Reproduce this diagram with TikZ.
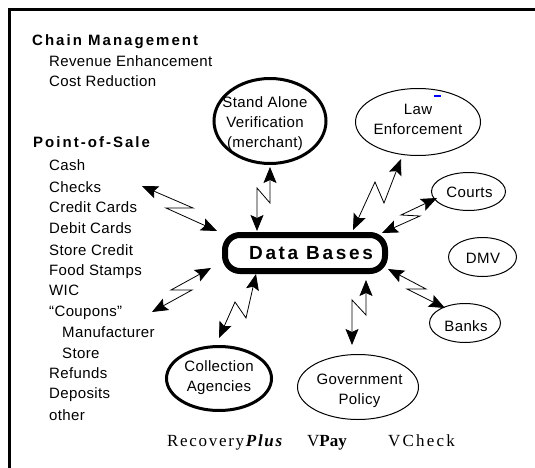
\documentclass[tikz,border=0pt]{standalone}
\usepackage{fontspec}
\setmainfont{Liberation Sans}
\newfontfamily\txtfont[LetterSpace=2.5]{Liberation Sans}
\newfontfamily\headfont[LetterSpace=13.5]{Liberation Sans}
\newfontfamily\dbfont[LetterSpace=14]{Liberation Sans}
\newfontfamily\prodfont[LetterSpace=10]{Liberation Serif}
\newfontfamily\prodplain{Liberation Serif}
\newfontfamily\prodwide[LetterSpace=13]{Liberation Serif}
\usetikzlibrary{shapes.geometric,arrows.meta}

\tikzset{
  lbl/.style={anchor=base west, inner sep=0pt, font=\txtfont\fontsize{15}{20}\selectfont},
  head/.style={anchor=base west, inner sep=0pt, font=\headfont\bfseries\fontsize{15}{18}\selectfont},
  oval/.style={ellipse, draw, line width=1pt, inner sep=0pt},
  thickoval/.style={oval, line width=3pt},
  ovaltext/.style={inner sep=0pt, align=center, font=\txtfont\fontsize{15}{20}\selectfont},
  dbbox/.style={draw, line width=6pt, rounded corners=15pt, minimum width=160pt,
    minimum height=36pt, inner sep=0pt, font=\dbfont\bfseries\fontsize{19}{20}\selectfont},
  prod/.style={anchor=base west, inner sep=0pt, font=\fontsize{17}{18}\selectfont},
  bolt/.style={<->, >={Stealth[length=16pt,width=13pt,inset=3pt]}, line width=0.8pt},
}

\begin{document}
\begin{tikzpicture}[x=1pt,y=-1pt]
\useasboundingbox (0,0) rectangle (535,468);

% frame
\draw[line width=3.5pt] (9.5,468) -- (9.5,9.5) -- (535,9.5);

% left column
\node[head] (chain) at (32,46) {Chain Management};
\node[lbl] (rev) at (49,67) {Revenue Enhancement};
\node[lbl] (cost) at (49,87) {Cost Reduction};
\node[head] (pos) at (33,147) {Point-of-Sale};
\node[lbl] (cash) at (49,170) {Cash};
\node[lbl] (checks) at (49,192) {Checks};
\node[lbl] (credit) at (49,212) {Credit Cards};
\node[lbl] (debit) at (49,233) {Debit Cards};
\node[lbl] (storecr) at (49,255) {Store Credit};
\node[lbl] (food) at (49,275) {Food Stamps};
\node[lbl] (wic) at (49,295) {WIC};
\node[lbl] (coupons) at (49,316) {“Coupons”};
\node[lbl] (manuf) at (62,337) {Manufacturer};
\node[lbl] (store) at (62,358) {Store};
\node[lbl] (refunds) at (49,378) {Refunds};
\node[lbl] (deposits) at (49,398) {Deposits};
\node[lbl] (other) at (49,420) {other};

% central data base
\node[dbbox] (db) at (305,253) {\hspace*{12pt}Data Bases};

% parties around it: outline, then its caption
\node[thickoval, minimum width=112pt, minimum height=85pt] (sa) at (270,121) {};
\node[ovaltext] (satext) at (265,124) {Stand Alone\\Verification\\(merchant)};
\node[oval, minimum width=125pt, minimum height=67pt] (law) at (418,122) {};
\node[ovaltext] (lawtext) at (418,119.5) {Law\\Enforcement};
\fill[blue] (434,95) rectangle (441,97);
\node[oval, minimum width=74pt, minimum height=38pt] (courts) at (468.5,191.5) {};
\node[ovaltext, anchor=base] (courtstext) at (469.5,197) {Courts};
\node[oval, minimum width=68pt, minimum height=39pt] (dmv) at (482.5,257) {};
\node[ovaltext, anchor=base] (dmvtext) at (483,263) {DMV};
\node[oval, minimum width=71pt, minimum height=39pt] (banks) at (465,323) {};
\node[ovaltext, anchor=base] (bankstext) at (466,331) {Banks};
\node[oval, minimum width=121pt, minimum height=65pt] (gov) at (358,387) {};
\node[ovaltext] (govtext) at (359.5,391) {Government\\Policy};
\node[thickoval, minimum width=105pt, minimum height=64pt] (coll) at (219,378.5) {};
\node[ovaltext] (colltext) at (219,378) {Collection\\Agencies};

% products
\node[prod] (recov) at (167,446) {\prodfont Recovery\textbf{\textit{Plus}}};
\node[prod] (vpay) at (307,446) {\prodplain V\textbf{Pay}};
\node[prod] (vcheck) at (388,446) {\prodwide VCheck};

% lightning links: end tips and zig corners
\coordinate (k1) at (142,186); \coordinate (k2) at (193,208);
\coordinate (k3) at (166,208); \coordinate (k4) at (217,231);
\coordinate (s1) at (270,167); \coordinate (s2) at (270,203);
\coordinate (s3) at (257,188); \coordinate (s4) at (257,231);
\coordinate (l1) at (401,159); \coordinate (l2) at (384,203);
\coordinate (l3) at (375,182); \coordinate (l4) at (353,230);
\coordinate (c1) at (437,198); \coordinate (c2) at (401,215);
\coordinate (c3) at (420,216); \coordinate (c4) at (382,233);
\coordinate (b1) at (388,269); \coordinate (b2) at (426,289);
\coordinate (b3) at (407,289); \coordinate (b4) at (445,308);
\coordinate (g1) at (366,280); \coordinate (g2) at (366,315);
\coordinate (g3) at (352,300); \coordinate (g4) at (352,345);
\coordinate (p1) at (211,268); \coordinate (p2) at (171,290);
\coordinate (p3) at (192,290); \coordinate (p4) at (152,312);
\coordinate (a1) at (256,274); \coordinate (a2) at (246,318);
\coordinate (a3) at (235,302); \coordinate (a4) at (219,338);

\draw[bolt] (k1) -- (k2) -- (k3) -- (k4);
\draw[bolt] (s1) -- (s2) -- (s3) -- (s4);
\draw[bolt] (l1) -- (l2) -- (l3) -- (l4);
\draw[bolt] (c1) -- (c2) -- (c3) -- (c4);
\draw[bolt] (b1) -- (b2) -- (b3) -- (b4);
\draw[bolt] (g1) -- (g2) -- (g3) -- (g4);
\draw[bolt] (p1) -- (p2) -- (p3) -- (p4);
\draw[bolt] (a1) -- (a2) -- (a3) -- (a4);
\end{tikzpicture}
\end{document}
